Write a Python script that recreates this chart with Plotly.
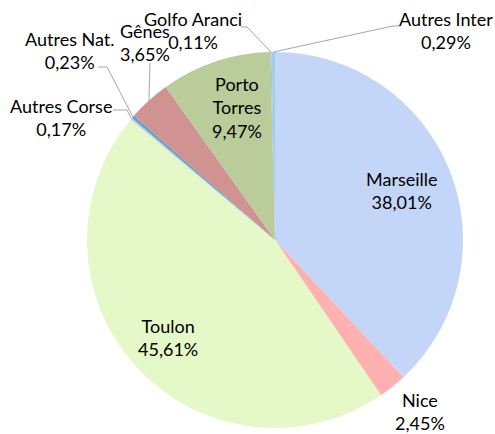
import math
import plotly.graph_objects as go

# ---- data ----
labels = ["Marseille", "Nice", "Toulon", "Autres Corse", "Autres Nat.", "Gênes",
          "Porto Torres", "Golfo Aranci", "Autres Inter"]
values = [38.01, 2.45, 45.61, 0.17, 0.23, 3.65, 9.47, 0.11, 0.29]
value_text = ["38,01%", "2,45%", "45,61%", "0,17%", "0,23%", "3,65%", "9,47%", "0,11%", "0,29%"]
colors = ["#c4d6f7", "#ffb0b0", "#e5f8c8", "#c9c6e3", "#4ba6c9", "#d09392",
          "#b9cc99", "#9cc2dc", "#9fcfe2"]

# ---- layout constants (pixels) ----
W, H = 495, 434
cx, cy, r = 275, 240, 188
FONT = "Lato"
FS = 18

# label centre positions (px) and leader-line waypoints (px)
label_pos = {
    "Marseille": (402, 190),
    "Nice": (420, 411),
    "Toulon": (168, 337),
    "Autres Corse": (61, 117),
    "Autres Nat.": (70, 51),
    "Gênes": (145, 42),
    "Porto Torres": (237, 107),
    "Golfo Aranci": (193, 30),
    "Autres Inter": (446, 30),
}
leaders = {
    "Autres Inter": [(393, 26), (400, 26)],
    "Golfo Aranci": [(247, 27), (241, 27)],
    "Gênes": [(150, 63)],
    "Autres Nat.": [(107, 67), (98, 67)],
    "Autres Corse": [(127, 110), (113, 110)],
}

fig = go.Figure(go.Pie(
    labels=labels, values=values, sort=False, direction="clockwise", rotation=0,
    marker=dict(colors=colors, line=dict(width=0)),
    textinfo="none", hoverinfo="label+percent", showlegend=False,
    domain=dict(x=[(cx - r) / W, (cx + r) / W], y=[(H - (cy + r)) / H, (H - (cy - r)) / H]),
))

total = sum(values)
cum = 0.0
mid_pts = {}
for lab, v in zip(labels, values):
    mid = (cum + v / 2) / total * 2 * math.pi
    mid_pts[lab] = (cx + r * math.sin(mid), cy - r * math.cos(mid))
    cum += v

def px(x, y):
    return x / W, 1 - y / H

annotations = []
for lab, vt in zip(labels, value_text):
    x, y = label_pos[lab]
    name = "Porto<br>Torres" if lab == "Porto Torres" else lab
    ax, ay = px(x, y)
    annotations.append(dict(
        x=ax, y=ay, xref="paper", yref="paper", showarrow=False,
        text=f"{name}<br>{vt}", align="center",
        font=dict(family=FONT, size=FS, color="#000000"),
        xanchor="center", yanchor="middle",
    ))

shapes = []
for lab, pts in leaders.items():
    path_pts = [mid_pts[lab]] + pts
    d = "M " + " L ".join(f"{px(a, b)[0]:.5f},{px(a, b)[1]:.5f}" for a, b in path_pts)
    shapes.append(dict(type="path", xref="paper", yref="paper", path=d,
                       line=dict(color="#a6a6a6", width=1)))

fig.update_layout(
    width=W, height=H, margin=dict(l=0, r=0, t=0, b=0),
    paper_bgcolor="white", plot_bgcolor="white",
    annotations=annotations, shapes=shapes,
)
fig.write_html("out.html", config={"displayModeBar": False},
               post_script="document.body.style.margin='0';document.body.style.overflow='hidden';")
